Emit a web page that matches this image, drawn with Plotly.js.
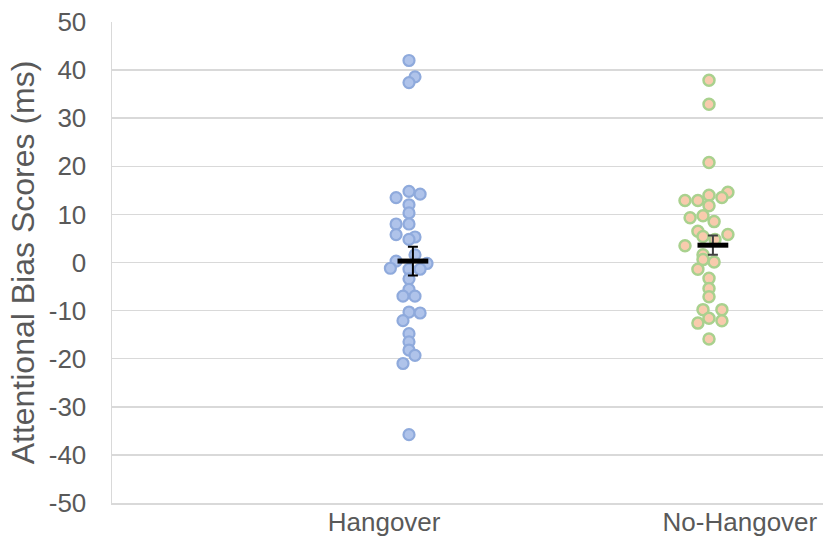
<!DOCTYPE html>
<html>
<head>
<meta charset="utf-8">
<script src="https://cdn.plot.ly/plotly-3.0.1.min.js"></script>
<style>html,body{margin:0;padding:0;background:#fff}#chart{width:823px;height:536px}</style>
</head>
<body>
<div id="chart"></div>
<script>
const categories = ['Hangover', 'No-Hangover'];
const groupX = [1, 2];

const hangoverScores = [42, 38.6, 37.4, 14.8, 14.2, 13.5, 12.0, 10.3, 8.0, 8.0, 5.8, 5.3, 4.8, 1.6, 0.3, -0.2, -1.2, -1.4, -1.4, -3.4, -5.6, -7.0, -7.0, -10.3, -10.5, -12.1, -14.8, -16.5, -18.2, -19.3, -21.0, -35.8];
const hangoverJitter = [0, 0.02, 0, 0, 0.037, -0.043, 0, 0, -0.043, 0, -0.043, 0.02, 0, 0.02, -0.043, 0.06, -0.062, 0, 0.037, 0, 0, -0.02, 0.02, 0, 0.037, -0.02, 0, 0, 0, 0.02, -0.02, 0];

const noHangoverScores = [37.9, 32.9, 20.8, 14.6, 14.0, 13.5, 12.9, 12.9, 11.8, 9.7, 9.3, 8.5, 6.5, 5.8, 5.4, 4.8, 3.5, 1.6, 0.6, 0.1, -1.4, -3.3, -5.4, -7.1, -9.8, -9.8, -11.6, -12.1, -12.6, -15.9];
const noHangoverJitter = [0, 0, 0, 0.063, 0, 0.043, -0.08, -0.037, 0, -0.02, -0.063, 0.017, -0.037, 0.063, -0.02, 0.02, -0.08, -0.02, -0.02, 0.017, -0.037, 0, 0, 0, -0.02, 0.043, 0, 0.043, -0.037, 0];

const groupMeans = [0.3, 3.6];
const groupSE = [3.0, 2.0];

const yTicks = [-50, -40, -30, -20, -10, 0, 10, 20, 30, 40, 50];

const font = "'Liberation Sans', Arial, sans-serif";
const textColor = '#595959';
const meanOffset = 0.013;

const traces = [
  {
    type: 'scatter', mode: 'markers', name: categories[0],
    x: hangoverScores.map((v, i) => groupX[0] + hangoverJitter[i]),
    y: hangoverScores,
    marker: {size: 11, color: '#AFC3EA', line: {color: '#8FAADC', width: 2.2}},
    hoverinfo: 'y'
  },
  {
    type: 'scatter', mode: 'markers', name: categories[1],
    x: noHangoverScores.map((v, i) => groupX[1] + noHangoverJitter[i]),
    y: noHangoverScores,
    marker: {size: 11, color: '#F8CBAD', line: {color: '#A9D18E', width: 2.5}},
    hoverinfo: 'y'
  },
  {
    type: 'scatter', mode: 'markers', name: 'Mean ' + categories[0],
    x: [groupX[0] + meanOffset], y: [groupMeans[0]],
    error_y: {type: 'data', array: [groupSE[0]], visible: true, color: '#000000', thickness: 2, width: 5},
    marker: {symbol: 'line-ew', size: 22, color: '#000000', line: {color: '#000000', width: 5}}
  },
  {
    type: 'scatter', mode: 'markers', name: 'Mean ' + categories[1],
    x: [groupX[1] + meanOffset], y: [groupMeans[1]],
    error_y: {type: 'data', array: [groupSE[1]], visible: true, color: '#404040', thickness: 2, width: 5},
    marker: {symbol: 'line-ew', size: 22, color: '#000000', line: {color: '#000000', width: 5}}
  }
];

const layout = {
  width: 823, height: 536,
  margin: {l: 112, r: 0, t: 22, b: 33, pad: 0},
  paper_bgcolor: '#ffffff', plot_bgcolor: '#ffffff',
  showlegend: false,
  font: {family: font, color: textColor, size: 25},
  xaxis: {
    range: [0.01, 2.38],
    tickvals: [0.917, 2.103],
    ticktext: categories,
    showgrid: false, zeroline: false,
    showline: true, linecolor: '#D9D9D9', linewidth: 1.5,
    ticks: '', ticklabelstandoff: -5,
    tickfont: {family: font, size: 26, color: textColor},
    fixedrange: true
  },
  yaxis: {
    range: [-50, 50],
    tickvals: yTicks,
    ticktext: yTicks.map(String),
    showgrid: true, gridcolor: '#D9D9D9', gridwidth: 1.5,
    zeroline: false,
    showline: true, linecolor: '#D9D9D9', linewidth: 1.5,
    ticks: '', ticklabelstandoff: 19,
    tickfont: {family: font, size: 26, color: textColor},
    title: {text: 'Attentional Bias Scores (ms)', font: {family: font, size: 32, color: textColor}, standoff: 4},
    fixedrange: true
  }
};

Plotly.newPlot('chart', traces, layout, {displayModeBar: false, staticPlot: true});
</script>
</body>
</html>
